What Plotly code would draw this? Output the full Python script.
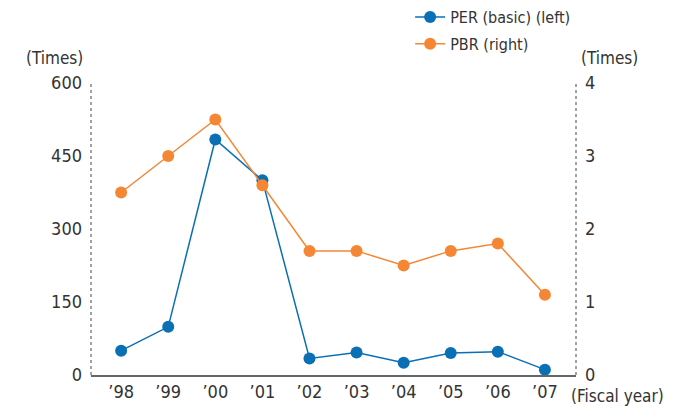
import plotly.graph_objects as go

years = ["’98", "’99", "’00", "’01", "’02", "’03", "’04", "’05", "’06", "’07"]
per_basic = [50, 99, 484, 400, 34, 46, 25, 45, 48, 11]
pbr = [2.5, 3.0, 3.5, 2.6, 1.7, 1.7, 1.5, 1.7, 1.8, 1.1]
left_ticks = [0, 150, 300, 450, 600]
right_ticks = [0, 1, 2, 3, 4]

BLUE = "#0a6fb5"
ORANGE = "#f58634"
FONT = "DejaVu Sans Condensed, Liberation Sans Narrow, Roboto, Arial, sans-serif"
TXT = "#333333"

xs = list(range(len(years)))

fig = go.Figure()
fig.add_trace(go.Scatter(
    x=xs, y=per_basic, name="PER (basic) (left)", mode="lines+markers",
    line=dict(color=BLUE, width=1.5), marker=dict(color=BLUE, size=12),
    yaxis="y", legendgroup="per",
))
fig.add_trace(go.Scatter(
    x=xs, y=pbr, name="PBR (right)", mode="lines+markers",
    line=dict(color=ORANGE, width=1.5), marker=dict(color=ORANGE, size=12),
    yaxis="y2", legendgroup="pbr",
))

fig.update_layout(
    width=687, height=409,
    margin=dict(l=91, r=111, t=83, b=34, autoexpand=False),
    paper_bgcolor="white", plot_bgcolor="white",
    font=dict(family=FONT, size=16, color=TXT),
    showlegend=True,
    legend=dict(x=0.597, y=1.01, xref="container", yref="container",
                xanchor="left", yanchor="top",
                font=dict(size=16, color=TXT), itemwidth=30,
                tracegroupgap=3, bgcolor="rgba(0,0,0,0)"),
    xaxis=dict(
        range=[-0.64, 9.66], tickmode="array", tickvals=xs, ticktext=years,
        showgrid=False, zeroline=False, showline=True, linecolor="#666666",
        linewidth=1.5, ticks="", tickfont=dict(size=18, color=TXT),
    ),
    yaxis=dict(
        range=[0, 600], tickvals=left_ticks, showgrid=False, zeroline=False,
        showline=False, ticks="", tickfont=dict(size=18, color=TXT),
        ticklabelstandoff=8,
    ),
    yaxis2=dict(
        range=[0, 4], tickvals=right_ticks, overlaying="y", side="right",
        showgrid=False, zeroline=False, showline=False, ticks="",
        tickfont=dict(size=18, color=TXT), ticklabelstandoff=8,
    ),
    shapes=[
        dict(type="line", xref="x domain", yref="y domain", x0=0, x1=0, y0=0, y1=1,
             line=dict(color="#444444", width=1, dash="3px,3px")),
        dict(type="line", xref="x domain", yref="y domain", x0=1, x1=1, y0=0, y1=1,
             line=dict(color="#444444", width=1, dash="3px,3px")),
    ],
    annotations=[
        dict(text="(Times)", xref="paper", yref="paper", x=-0.012, y=1.086,
             xanchor="right", yanchor="middle", showarrow=False,
             font=dict(size=17, color=TXT)),
        dict(text="(Times)", xref="paper", yref="paper", x=1.006, y=1.086,
             xanchor="left", yanchor="middle", showarrow=False,
             font=dict(size=17, color=TXT)),
        dict(text="(Fiscal year)", xref="paper", yref="paper", x=0.985, y=-0.072,
             xanchor="left", yanchor="middle", showarrow=False,
             font=dict(size=17, color=TXT)),
    ],
)

fig.write_html("out.html")
